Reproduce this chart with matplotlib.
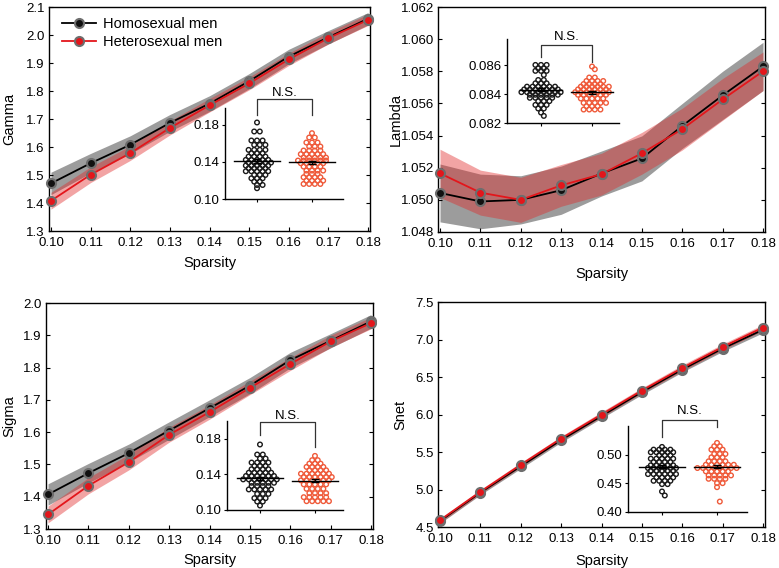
import matplotlib
matplotlib.use('Agg')
import matplotlib.pyplot as plt
import matplotlib.transforms as mtransforms
import numpy as np

plt.rcParams['font.family'] = ['Liberation Sans', 'DejaVu Sans']

sparsity = [0.10, 0.11, 0.12, 0.13, 0.14, 0.15, 0.16, 0.17, 0.18]

# main curves (mean and half-width of shaded band)
gamma_homo = [1.470, 1.542, 1.608, 1.686, 1.755, 1.835, 1.923, 1.992, 2.058]
gamma_homo_err = [0.040, 0.035, 0.032, 0.030, 0.028, 0.027, 0.026, 0.024, 0.022]
gamma_hetero = [1.408, 1.501, 1.578, 1.668, 1.749, 1.827, 1.913, 1.989, 2.054]
gamma_hetero_err = [0.030, 0.028, 0.026, 0.025, 0.024, 0.023, 0.022, 0.021, 0.020]

lambda_homo = [1.05043, 1.04990, 1.05000, 1.05060, 1.05164, 1.05258, 1.05460, 1.05650, 1.05830]
lambda_homo_err = [0.0018, 0.0017, 0.0015, 0.0015, 0.0014, 0.0014, 0.0014, 0.0015, 0.0015]
lambda_hetero = [1.05165, 1.05045, 1.05000, 1.05090, 1.05160, 1.05290, 1.05440, 1.05625, 1.05800]
lambda_hetero_err = [0.0015, 0.0014, 0.0014, 0.0013, 0.0013, 0.0013, 0.0013, 0.0013, 0.0012]

sigma_homo = [1.407, 1.473, 1.535, 1.605, 1.674, 1.744, 1.823, 1.883, 1.943]
sigma_homo_err = [0.033, 0.030, 0.028, 0.027, 0.026, 0.025, 0.024, 0.022, 0.021]
sigma_hetero = [1.345, 1.434, 1.507, 1.592, 1.662, 1.737, 1.811, 1.881, 1.938]
sigma_hetero_err = [0.026, 0.025, 0.024, 0.023, 0.022, 0.021, 0.020, 0.019, 0.018]

snet_homo = [4.58, 4.96, 5.31, 5.66, 5.98, 6.30, 6.60, 6.88, 7.13]
snet_homo_err = [0.03, 0.03, 0.03, 0.03, 0.03, 0.035, 0.035, 0.04, 0.04]
snet_hetero = [4.59, 4.97, 5.33, 5.68, 6.00, 6.32, 6.62, 6.90, 7.16]
snet_hetero_err = [0.03, 0.03, 0.03, 0.03, 0.035, 0.035, 0.04, 0.04, 0.04]

# insets: per-subject values, stored as rows of the dot plot (value, how many dots)
gamma_in_homo = [0.1824, 0.1727, 0.1630, 0.1583, 0.1529, 0.1493, 0.1457, 0.1421, 0.1392,
                 0.1360, 0.1331, 0.1299, 0.1259, 0.1223, 0.1187, 0.1151, 0.1116]
gamma_in_homo_n = [1, 2, 3, 3, 4, 3, 4, 5, 5, 5, 4, 5, 3, 3, 2, 2, 1]
gamma_in_hetero = [0.1709, 0.1662, 0.1608, 0.1565, 0.1522, 0.1483, 0.1446, 0.1414,
                   0.1385, 0.1349, 0.1306, 0.1270, 0.1234, 0.1198, 0.1162]
gamma_in_hetero_n = [1, 2, 3, 3, 4, 5, 5, 6, 5, 4, 4, 3, 4, 4, 4]

lambda_in_homo = [0.08601, 0.08578, 0.08560, 0.08532, 0.08497, 0.08474, 0.08451, 0.08432,
                  0.08413, 0.08395, 0.08374, 0.08351, 0.08325, 0.08300, 0.08272, 0.08249]
lambda_in_homo_n = [3, 2, 3, 1, 2, 3, 6, 7, 8, 6, 5, 3, 3, 2, 1, 1]
lambda_in_hetero = [0.08590, 0.08571, 0.08514, 0.08490, 0.08469, 0.08451, 0.08432,
                    0.08413, 0.08395, 0.08369, 0.08339, 0.08316, 0.08293]
lambda_in_hetero_n = [1, 1, 2, 4, 4, 6, 6, 7, 6, 5, 5, 3, 4]

sigma_in_homo = [0.1736, 0.1623, 0.1578, 0.1533, 0.1495, 0.1458, 0.1419, 0.1382, 0.1344,
                 0.1306, 0.1269, 0.1231, 0.1181, 0.1133, 0.1095, 0.1050]
sigma_in_homo_n = [1, 2, 2, 4, 3, 4, 5, 6, 7, 5, 4, 5, 3, 3, 2, 1]
sigma_in_hetero = [0.1608, 0.1560, 0.1521, 0.1484, 0.1446, 0.1408, 0.1370, 0.1333,
                   0.1288, 0.1238, 0.1189, 0.1144, 0.1099]
sigma_in_hetero_n = [1, 2, 3, 4, 4, 6, 6, 6, 5, 4, 4, 5, 5]

snet_in_homo = [0.5135, 0.5088, 0.5042, 0.4989, 0.4930, 0.4872, 0.4814, 0.4767, 0.4719,
                0.4661, 0.4603, 0.4544, 0.4486, 0.4358, 0.4288]
snet_in_homo_n = [1, 4, 5, 3, 5, 4, 5, 6, 5, 6, 4, 4, 2, 1, 1]
snet_in_hetero = [0.5205, 0.5147, 0.5088, 0.5012, 0.4954, 0.4884, 0.4824, 0.4767,
                  0.4709, 0.4638, 0.4579, 0.4503, 0.4433, 0.4182]
snet_in_hetero_n = [1, 2, 3, 3, 3, 4, 6, 8, 5, 5, 4, 2, 1, 1]

W, H = 779, 568
fig = plt.figure(figsize=(W / 100, H / 100), dpi=100)


def px_rect(l, t, r, b):
    return [l / W, 1 - b / H, (r - l) / W, (b - t) / H]


def main_panel(rect, homo, homo_err, het, het_err, ylim, yticks, yfmt, ylabel,
               ylab_x, xlab_y, legend=False):
    ax = fig.add_axes(px_rect(*rect))
    x = np.array(sparsity)
    h, he = np.array(homo), np.array(homo_err)
    t, te = np.array(het), np.array(het_err)
    ax.fill_between(x, h - he, h + he, color='#5a5a5a', alpha=0.6, lw=0, zorder=1)
    ax.fill_between(x, t - te, t + te, color='#e02828', alpha=0.42, lw=0, zorder=2)
    ax.plot(x, homo, '-o', color='black', lw=1.3, ms=6.5, mfc='#111111', mec='#6e6e6e',
            mew=1.5, label='Homosexual men', clip_on=False, zorder=3)
    ax.plot(x, het, '-o', color='#e3161b', lw=1.3, ms=6.5, mfc='#e3161b', mec='#6e6e6e',
            mew=1.5, label='Heterosexual men', clip_on=False, zorder=4)
    ax.set_xlim(0.0995, 0.1805)
    ax.set_ylim(*ylim)
    ax.set_xticks(sparsity)
    ax.set_xticklabels(['%.2f' % v for v in sparsity])
    ax.set_yticks(yticks)
    ax.set_yticklabels([yfmt % v for v in yticks])
    ax.tick_params(direction='in', length=3, width=0.8, labelsize=9.5, right=True,
                   top=False, pad=3)
    ax.tick_params(axis='x', pad=4)
    for s in ax.spines.values():
        s.set_linewidth(1.0)
    ax.set_ylabel(ylabel, fontsize=10.5)
    ax.set_xlabel('Sparsity', fontsize=10.5)
    ax.yaxis.set_label_coords(ylab_x, 0.5)
    ax.xaxis.set_label_coords(0.5, xlab_y)
    if legend:
        ax.legend(loc='upper left', bbox_to_anchor=(0.01, 1.0), frameon=False,
                  fontsize=10.5, handlelength=2.3, handletextpad=0.5,
                  labelspacing=0.25, borderaxespad=0.3)
    return ax


def row_offsets(vals, d):
    # dots sharing a value sit side by side, centred; neighbouring rows are staggered
    offs = np.zeros(len(vals))
    prev_n, shift = None, 0.0
    for u in np.unique(vals)[::-1]:
        idx = np.where(vals == u)[0]
        n = len(idx)
        if prev_n is not None and (n - prev_n) % 2 == 0:
            shift = d / 2 if shift == 0 else 0.0
        else:
            shift = 0.0
        offs[idx] = (np.arange(n) - (n - 1) / 2) * d + shift
        prev_n = n
    return offs


def inset(rect, g0, n0, g1, n1, xlim, ylim, yticks, yfmt, br_top, br_l, br_r, ns_y):
    ins = fig.add_axes(px_rect(*rect))
    ins.patch.set_alpha(0)
    ins.set_xlim(*xlim)
    ins.set_ylim(*ylim)
    ppx = ins.transData.transform([(0, 0), (1, 0)])
    px_per_x = ppx[1, 0] - ppx[0, 0]
    for i, (vals, n, col) in enumerate([(g0, n0, '#1a1a1a'), (g1, n1, '#ef5a3a')]):
        v = np.repeat(vals, n)
        xo = row_offsets(v, 5.6) / px_per_x
        ins.scatter(i + xo, v, s=11, facecolors='none', edgecolors=col,
                    linewidths=1.0, zorder=2)
        m = v.mean()
        sem = v.std(ddof=1) / np.sqrt(len(v))
        ins.plot([i - 0.42, i + 0.42], [m, m], color='black', lw=1.0, zorder=3)
        ins.errorbar(i, m, yerr=sem, color='black', capsize=3, lw=1.0,
                     capthick=1.0, zorder=3)
    for side in ['top', 'right']:
        ins.spines[side].set_visible(False)
    for side in ['left', 'bottom']:
        ins.spines[side].set_linewidth(1.0)
    ins.set_xticks([0, 1])
    ins.set_xticklabels(['', ''])
    ins.set_yticks(yticks)
    ins.set_yticklabels([yfmt % v for v in yticks])
    ins.tick_params(direction='out', length=2.5, width=0.8, labelsize=9.5, pad=1.5)
    tr = mtransforms.blended_transform_factory(ins.transData, ins.transAxes)
    ins.plot([0, 0, 1, 1], [br_l, br_top, br_top, br_r], color='#333333', lw=0.9,
             transform=tr, clip_on=False)
    ins.text(0.5, ns_y, 'N.S.', transform=tr, ha='center', va='center',
             fontsize=9.5)
    return ins


main_panel((49, 7, 370, 231), gamma_homo, gamma_homo_err, gamma_hetero,
           gamma_hetero_err, (1.3, 2.1), [1.3, 1.4, 1.5, 1.6, 1.7, 1.8, 1.9, 2.0, 2.1],
           '%.1f', 'Gamma', -0.103, -0.112, legend=True)
main_panel((438, 7, 765, 232), lambda_homo, lambda_homo_err, lambda_hetero,
           lambda_hetero_err, (1.048, 1.062),
           [1.048, 1.050, 1.052, 1.054, 1.056, 1.058, 1.060, 1.062],
           '%.3f', 'Lambda', -0.107, -0.156)
main_panel((46, 303, 373, 529), sigma_homo, sigma_homo_err, sigma_hetero,
           sigma_hetero_err, (1.3, 2.0), [1.3, 1.4, 1.5, 1.6, 1.7, 1.8, 1.9, 2.0],
           '%.1f', 'Sigma', -0.092, -0.106)
main_panel((438, 302, 765, 527), snet_homo, snet_homo_err, snet_hetero,
           snet_hetero_err, (4.5, 7.5), [4.5, 5.0, 5.5, 6.0, 6.5, 7.0, 7.5],
           '%.1f', 'Snet', -0.095, -0.12)

inset((225, 108, 343, 199), gamma_in_homo, gamma_in_homo_n, gamma_in_hetero,
      gamma_in_hetero_n, (-0.582, 1.564), (0.10, 0.198), [0.10, 0.14, 0.18], '%.2f',
      1.10, 0.92, 0.92, 1.17)
inset((507, 39, 619, 123), lambda_in_homo, lambda_in_homo_n, lambda_in_hetero,
      lambda_in_hetero_n, (-0.667, 1.529), (0.082, 0.0878), [0.082, 0.084, 0.086],
      '%.3f', 0.93, 0.79, 0.73, 1.02)
inset((227, 421, 343, 510), sigma_in_homo, sigma_in_homo_n, sigma_in_hetero,
      sigma_in_hetero_n, (-0.6, 1.51), (0.10, 0.20), [0.10, 0.14, 0.18], '%.2f',
      0.985, 0.84, 0.71, 1.06)
inset((628, 426, 747, 512), snet_in_homo, snet_in_homo_n, snet_in_hetero,
      snet_in_hetero_n, (-0.618, 1.545), (0.40, 0.55), [0.40, 0.45, 0.50], '%.2f',
      1.07, 0.87, 0.985, 1.17)

fig.savefig('out.png', dpi=100)
